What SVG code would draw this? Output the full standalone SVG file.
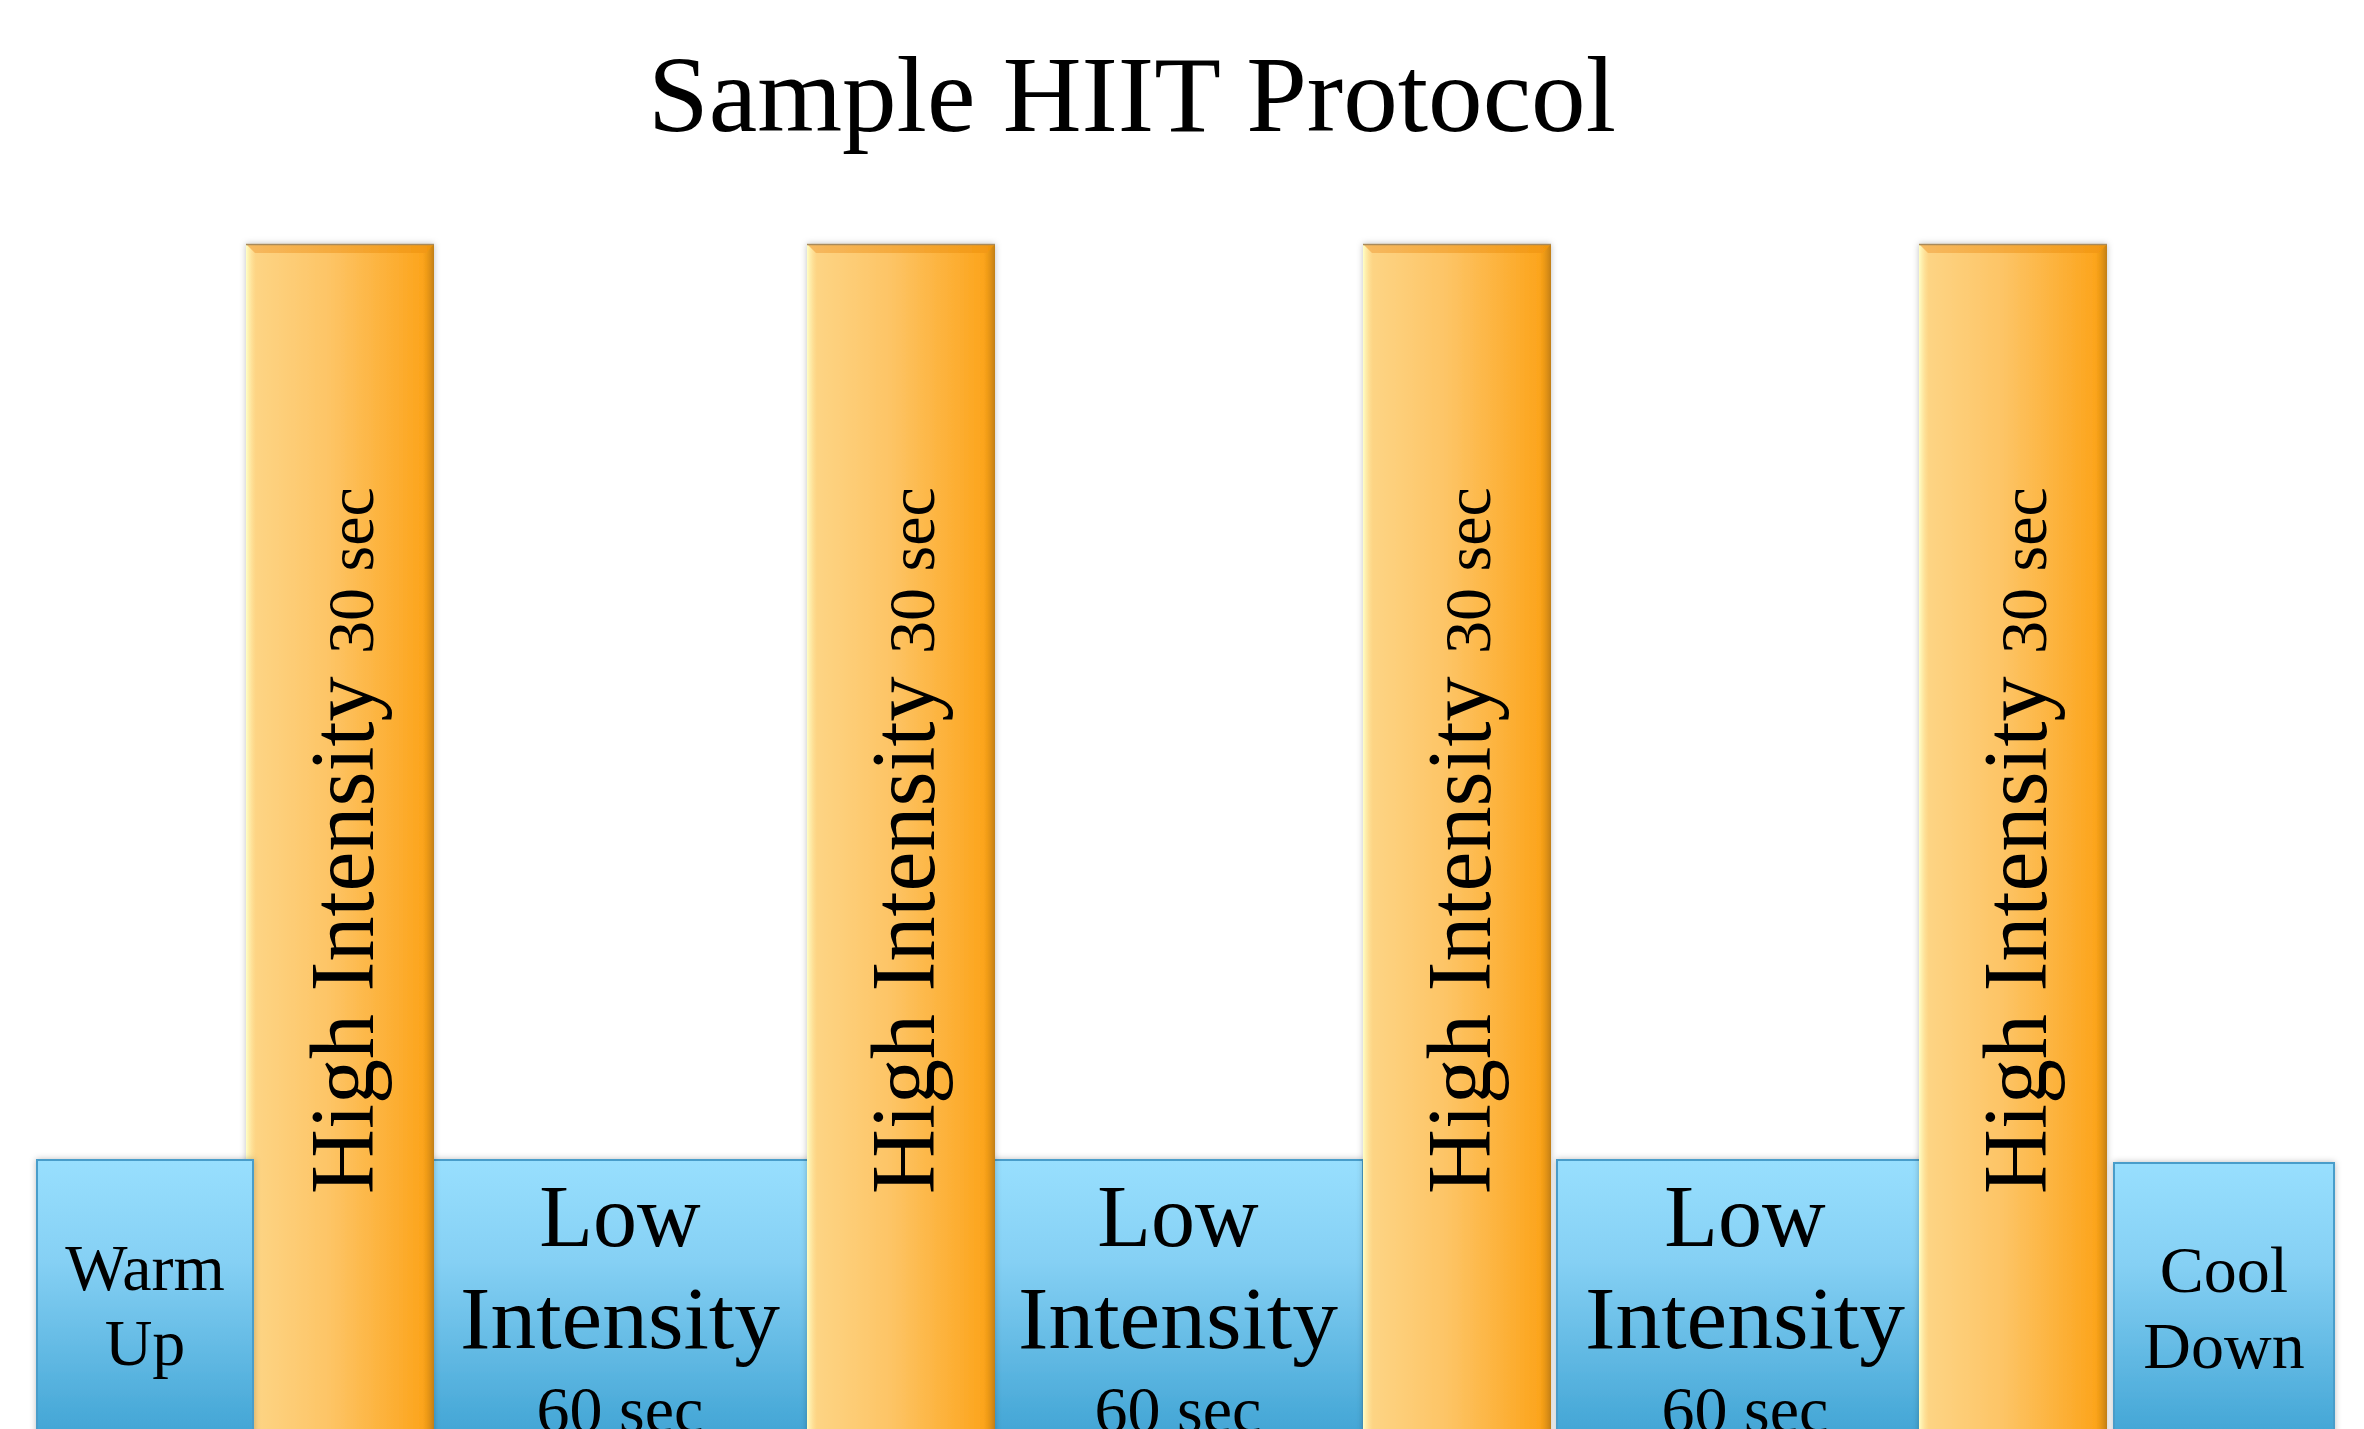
<svg xmlns="http://www.w3.org/2000/svg" width="2364" height="1429" viewBox="0 0 2364 1429">
  <defs>
    <linearGradient id="blueFill" x1="0" y1="0" x2="0" y2="1">
      <stop offset="0" stop-color="#98DFFE"/>
      <stop offset="0.35" stop-color="#85D0F4"/>
      <stop offset="1" stop-color="#3CA1D2"/>
    </linearGradient>
    <linearGradient id="orangeFill" x1="0" y1="0" x2="1" y2="0">
      <stop offset="0" stop-color="#FDD688"/>
      <stop offset="0.45" stop-color="#FDC465"/>
      <stop offset="1" stop-color="#FCA114"/>
    </linearGradient>
    <linearGradient id="leftGlow" x1="0" y1="0" x2="1" y2="0">
      <stop offset="0" stop-color="#FFFFC6"/>
      <stop offset="1" stop-color="#FFE6A0" stop-opacity="0"/>
    </linearGradient>
    <linearGradient id="rightShade" x1="0" y1="0" x2="1" y2="0">
      <stop offset="0" stop-color="#E8960E" stop-opacity="0"/>
      <stop offset="1" stop-color="#C07E14"/>
    </linearGradient>
    <linearGradient id="topBevel" x1="0" y1="0" x2="1" y2="0">
      <stop offset="0" stop-color="#F5B45A"/>
      <stop offset="1" stop-color="#F2960E"/>
    </linearGradient>
    <filter id="soft" x="-10%" y="-10%" width="120%" height="120%">
      <feDropShadow dx="0" dy="0" stdDeviation="3" flood-color="#000000" flood-opacity="0.25"/>
    </filter>
    <!-- orange interval bar, 188 wide, drawn from the top at y=0 -->
    <g id="highBar">
      <rect x="0" y="0" width="188" height="1200" fill="url(#orangeFill)"/>
      <rect x="0" y="0" width="10" height="1200" fill="url(#leftGlow)"/>
      <rect x="176" y="0" width="12" height="1200" fill="url(#rightShade)"/>
      <polygon points="0,0 188,0 180,9 9,9" fill="url(#topBevel)" opacity="0.85"/>
      <line x1="0" y1="0.5" x2="188" y2="0.5" stroke="#A88A5C" stroke-width="1.5"/>
    </g>
  </defs>
  <style>
    .title { font-family: "Liberation Serif", "Times New Roman", serif; font-size: 108px; fill: #000; }
    .lbl { font-family: "Liberation Serif", "Times New Roman", serif; fill: #000; text-anchor: middle; }
    .big { font-size: 88px; }
    .mid { font-size: 66px; }
    .vert { font-family: "Liberation Serif", "Times New Roman", serif; fill: #000; }
    .box { fill: url(#blueFill); stroke: #4A9DCA; stroke-width: 2; filter: url(#soft); }
  </style>

  <rect x="0" y="0" width="2364" height="1429" fill="#FFFFFF"/>

  <g id="title">
    <text class="title" x="1132" y="131" text-anchor="middle" textLength="968" lengthAdjust="spacingAndGlyphs">Sample HIIT Protocol</text>
  </g>

  <!-- low-intensity blocks and cool-down -->
  <g id="low-1">
    <rect class="box" x="430" y="1160" width="380" height="290"/>
    <text class="lbl big" x="620" y="1246">Low</text>
    <text class="lbl big" x="620" y="1348" textLength="320" lengthAdjust="spacingAndGlyphs">Intensity</text>
    <text class="lbl mid" x="620" y="1432">60 sec</text>
  </g>
  <g id="low-2">
    <rect class="box" x="990" y="1160" width="373" height="290"/>
    <text class="lbl big" x="1178" y="1246">Low</text>
    <text class="lbl big" x="1178" y="1348" textLength="320" lengthAdjust="spacingAndGlyphs">Intensity</text>
    <text class="lbl mid" x="1178" y="1432">60 sec</text>
  </g>
  <g id="low-3">
    <rect class="box" x="1557" y="1160" width="366" height="290"/>
    <text class="lbl big" x="1745" y="1246">Low</text>
    <text class="lbl big" x="1745" y="1348" textLength="320" lengthAdjust="spacingAndGlyphs">Intensity</text>
    <text class="lbl mid" x="1745" y="1432">60 sec</text>
  </g>
  <g id="cool-down">
    <rect class="box" x="2114" y="1163" width="220" height="290"/>
    <text class="lbl mid" x="2224" y="1292">Cool</text>
    <text class="lbl mid" x="2224" y="1368">Down</text>
  </g>

  <!-- high-intensity bars -->
  <g id="high-1">
    <use href="#highBar" x="246" y="244" filter="url(#soft)"/>
    <text class="vert" transform="translate(373 1194) rotate(-90)"><tspan font-size="90">High Intensity </tspan><tspan font-size="66">30 sec</tspan></text>
  </g>
  <g id="high-2">
    <use href="#highBar" x="807" y="244" filter="url(#soft)"/>
    <text class="vert" transform="translate(934 1194) rotate(-90)"><tspan font-size="90">High Intensity </tspan><tspan font-size="66">30 sec</tspan></text>
  </g>
  <g id="high-3">
    <use href="#highBar" x="1363" y="244" filter="url(#soft)"/>
    <text class="vert" transform="translate(1490 1194) rotate(-90)"><tspan font-size="90">High Intensity </tspan><tspan font-size="66">30 sec</tspan></text>
  </g>
  <g id="high-4">
    <use href="#highBar" x="1919" y="244" filter="url(#soft)"/>
    <text class="vert" transform="translate(2046 1194) rotate(-90)"><tspan font-size="90">High Intensity </tspan><tspan font-size="66">30 sec</tspan></text>
  </g>

  <!-- warm-up block sits over the first bar's left edge -->
  <g id="warm-up">
    <rect class="box" x="37" y="1160" width="216" height="290"/>
    <text class="lbl mid" x="145" y="1290">Warm</text>
    <text class="lbl mid" x="145" y="1365">Up</text>
  </g>
</svg>
